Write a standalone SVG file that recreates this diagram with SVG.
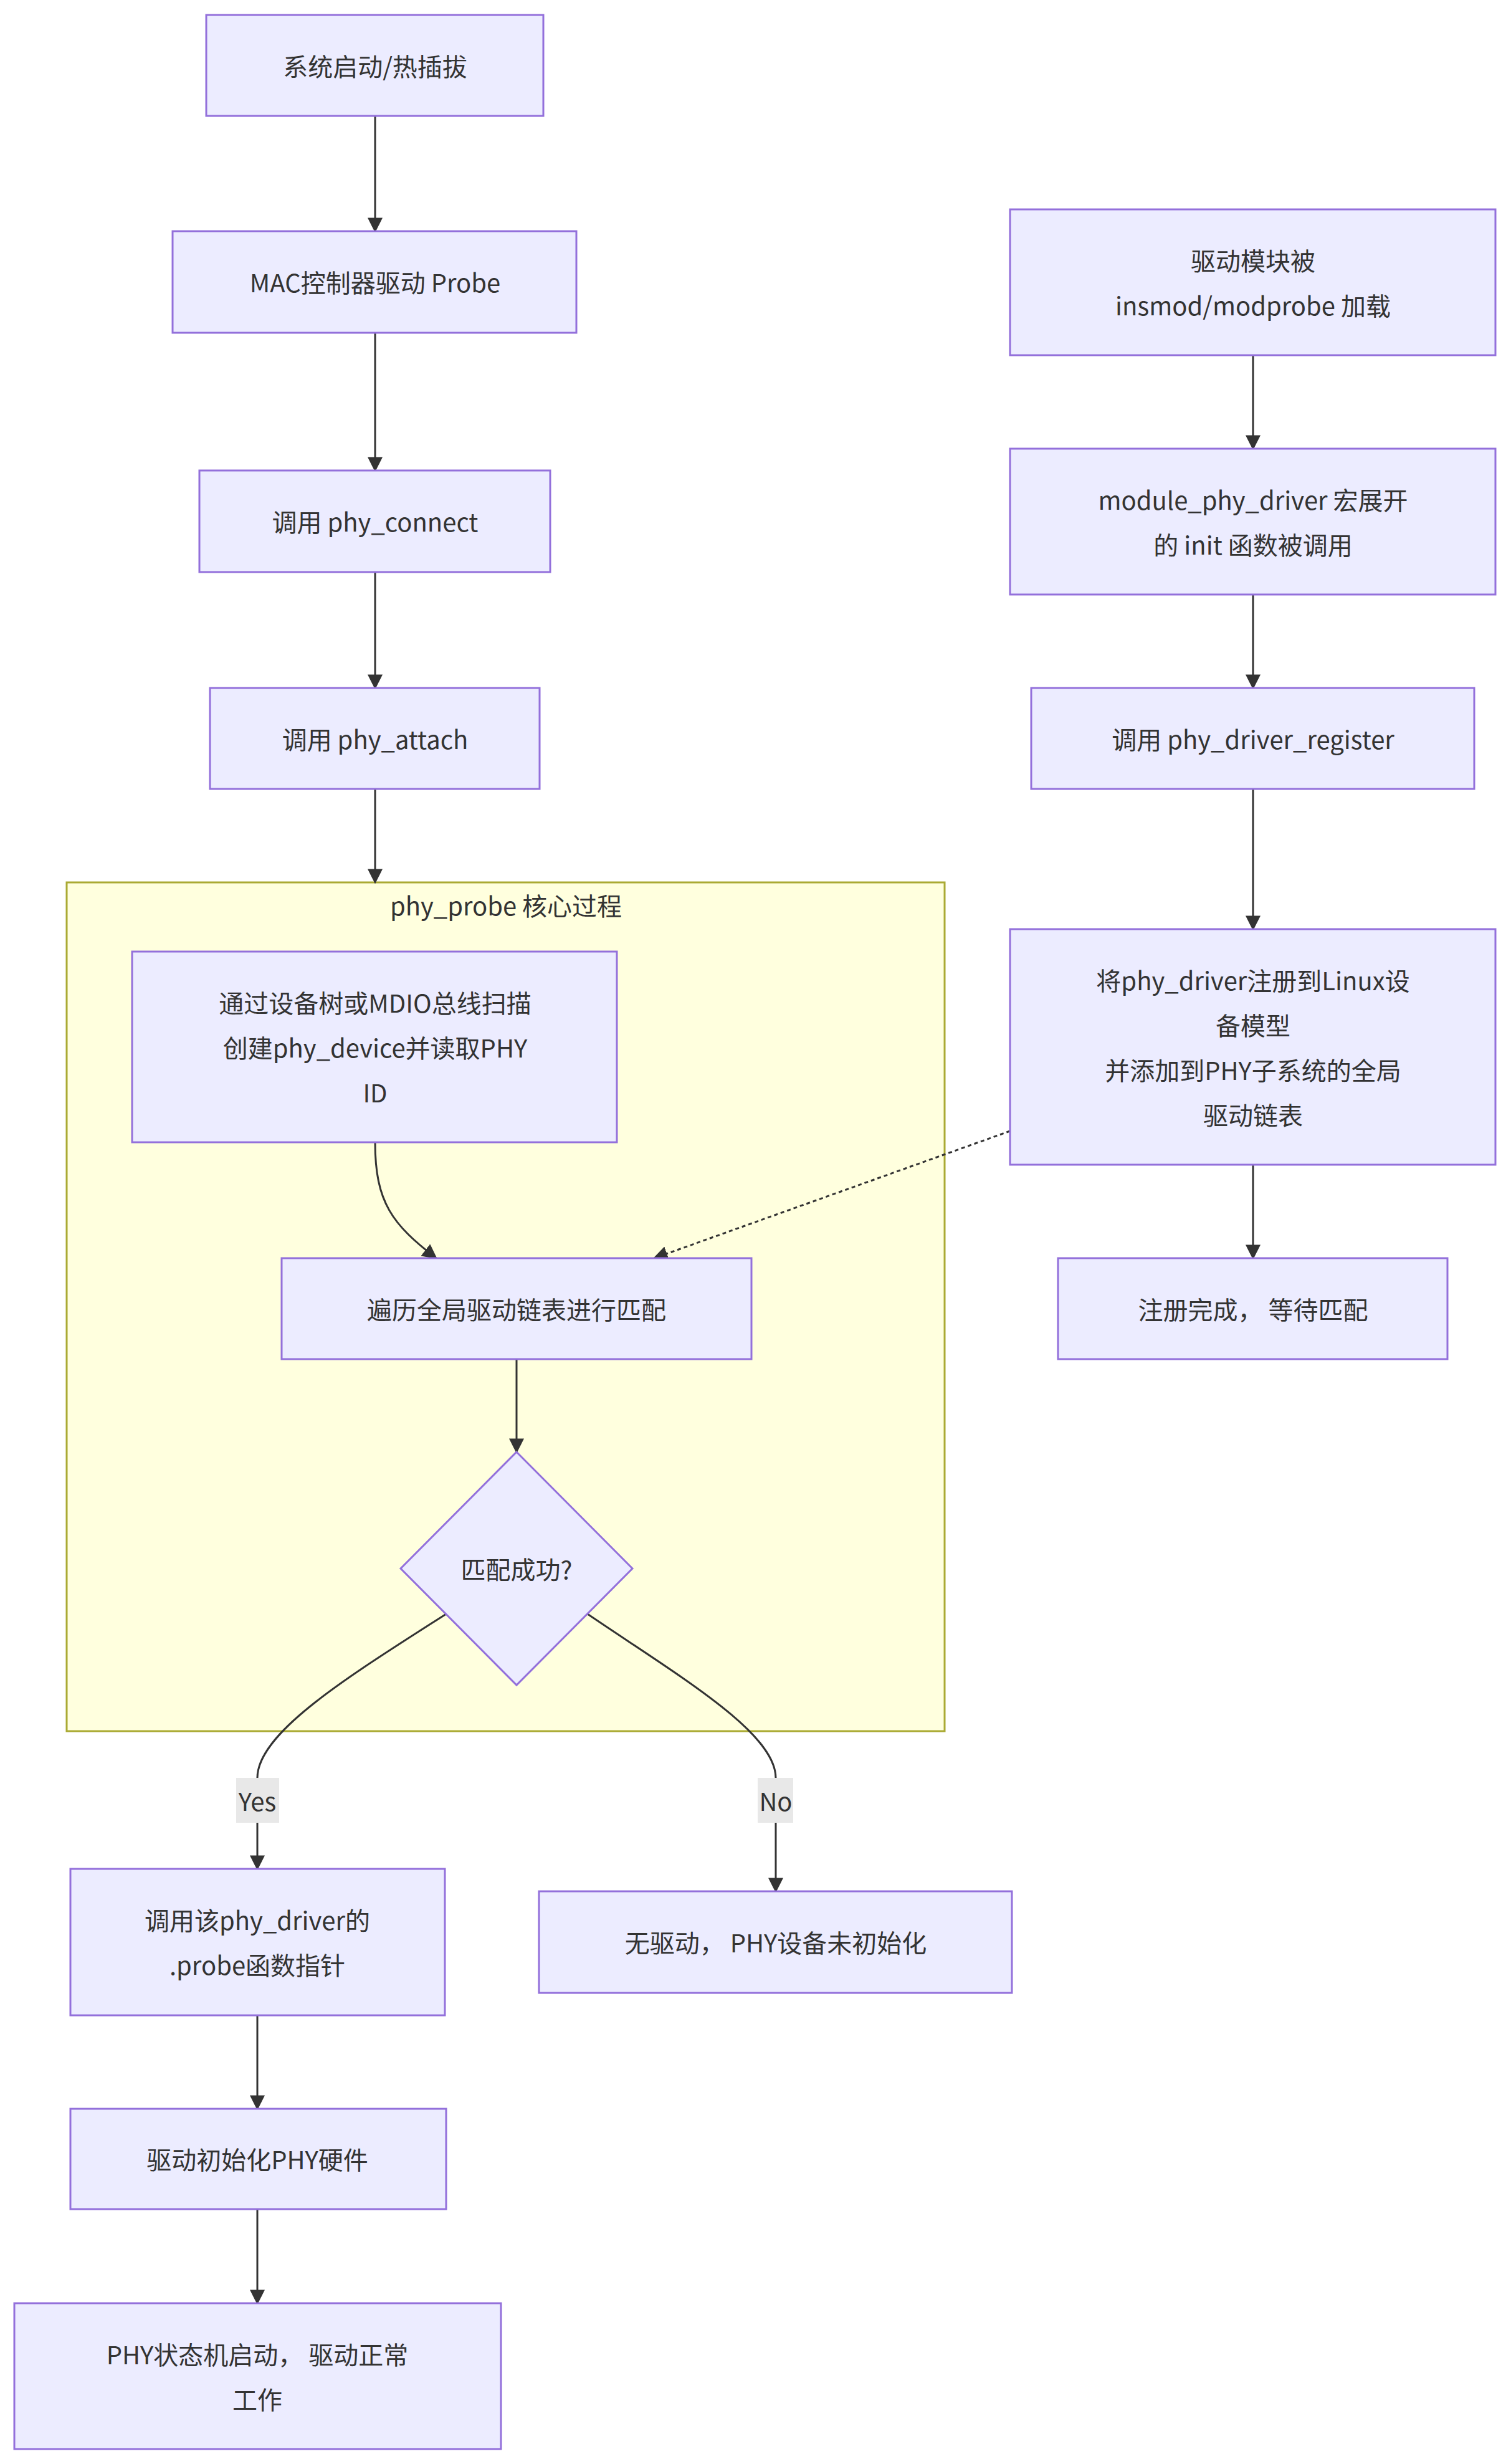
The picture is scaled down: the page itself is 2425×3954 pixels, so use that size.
<svg xmlns="http://www.w3.org/2000/svg" width="2425" height="3954" viewBox="0 0 2425 3954">
<style>
.n{fill:#ECECFF;stroke:#9370DB;stroke-width:3}
.t{font-family:"Noto Sans CJK SC","Noto Sans",sans-serif;font-size:40px;fill:#333;text-anchor:middle;dominant-baseline:central}
.e{fill:none;stroke:#333;stroke-width:3}
</style>
<defs><marker id="a" viewBox="0 0 10 10" refX="9" refY="5" markerWidth="8" markerHeight="8" markerUnits="userSpaceOnUse" orient="auto"><path d="M0,0L10,5L0,10z" fill="#333"/></marker>
<marker id="ah" viewBox="0 0 10 10" refX="9" refY="5" markerWidth="24" markerHeight="24" markerUnits="userSpaceOnUse" orient="auto"><path d="M0,0L10,5L0,10z" fill="#333"/></marker></defs>
<rect x="0" y="0" width="2425" height="3954" fill="#fff"/>
<g id="cluster"><rect x="107" y="1416" width="1409" height="1362" fill="#FFFFDE" stroke="#AAAA33" stroke-width="3"/><text class="t" x="812" y="1452">phy_probe 核心过程</text></g>
<g id="edges">
<path class="e" marker-end="url(#ah)" d="M602,186V371"/>
<path class="e" marker-end="url(#ah)" d="M602,534V755"/>
<path class="e" marker-end="url(#ah)" d="M602,918V1104"/>
<path class="e" marker-end="url(#ah)" d="M602,1266V1416"/>
<path class="e" marker-end="url(#ah)" d="M2011,570V720"/>
<path class="e" marker-end="url(#ah)" d="M2011,954V1104"/>
<path class="e" marker-end="url(#ah)" d="M2011,1266V1491"/>
<path class="e" marker-end="url(#ah)" d="M2011,1869V2019"/>
<path class="e" marker-end="url(#ah)" d="M602,1833C602,1930 630,1965 700,2019"/>
<path class="e" marker-end="url(#ah)" stroke-dasharray="6,5" d="M1621,1815L1050,2019"/>
<path class="e" marker-end="url(#ah)" d="M829,2181V2330"/>
<path class="e" marker-end="url(#ah)" d="M716,2590C560,2690 413,2780 413,2853V2999"/>
<path class="e" marker-end="url(#ah)" d="M943,2590C1090,2690 1245,2780 1245,2853V3035"/>
<path class="e" marker-end="url(#ah)" d="M413,3234V3384"/>
<path class="e" marker-end="url(#ah)" d="M413,3545V3696"/>
</g>
<g id="lYes"><rect x="379" y="2853" width="69" height="72" fill="#e8e8e8"/><text class="t" x="413" y="2889">Yes</text></g>
<g id="lNo"><rect x="1216" y="2853" width="57" height="72" fill="#e8e8e8"/><text class="t" x="1245" y="2889">No</text></g>
<g id="n1"><rect class="n" x="331" y="24" width="541" height="162"/><text class="t" x="602" y="105">系统启动/热插拔</text></g>
<g id="n2"><rect class="n" x="277" y="371" width="648" height="163"/><text class="t" x="602" y="452">MAC控制器驱动 Probe</text></g>
<g id="n3"><rect class="n" x="320" y="755" width="563" height="163"/><text class="t" x="602" y="836">调用 phy_connect</text></g>
<g id="n4"><rect class="n" x="337" y="1104" width="529" height="162"/><text class="t" x="602" y="1185">调用 phy_attach</text></g>
<g id="r1"><rect class="n" x="1621" y="336" width="779" height="234"/><text class="t" x="2011" y="417">驱动模块被</text><text class="t" x="2011" y="489">insmod/modprobe 加载</text></g>
<g id="r2"><rect class="n" x="1621" y="720" width="779" height="234"/><text class="t" x="2011" y="801">module_phy_driver 宏展开</text><text class="t" x="2011" y="873">的 init 函数被调用</text></g>
<g id="r3"><rect class="n" x="1655" y="1104" width="711" height="162"/><text class="t" x="2011" y="1185">调用 phy_driver_register</text></g>
<g id="r4"><rect class="n" x="1621" y="1491" width="779" height="378"/><text class="t" x="2011" y="1572">将phy_driver注册到Linux设</text><text class="t" x="2011" y="1644">备模型</text><text class="t" x="2011" y="1716">并添加到PHY子系统的全局</text><text class="t" x="2011" y="1788">驱动链表</text></g>
<g id="r5"><rect class="n" x="1698" y="2019" width="625" height="162"/><text class="t" x="2011" y="2100">注册完成， 等待匹配</text></g>
<g id="p1"><rect class="n" x="212" y="1527" width="778" height="306"/><text class="t" x="602" y="1608">通过设备树或MDIO总线扫描</text><text class="t" x="602" y="1680">创建phy_device并读取PHY</text><text class="t" x="602" y="1752">ID</text></g>
<g id="p2"><rect class="n" x="452" y="2019" width="754" height="162"/><text class="t" x="829" y="2100">遍历全局驱动链表进行匹配</text></g>
<g id="d"><polygon class="n" points="829,2330 1015,2517 829,2704 643,2517"/><text class="t" x="829" y="2517">匹配成功?</text></g>
<g id="y1"><rect class="n" x="113" y="2999" width="601" height="235"/><text class="t" x="413" y="3080">调用该phy_driver的</text><text class="t" x="413" y="3152">.probe函数指针</text></g>
<g id="no1"><rect class="n" x="865" y="3035" width="759" height="163"/><text class="t" x="1245" y="3116">无驱动， PHY设备未初始化</text></g>
<g id="y2"><rect class="n" x="113" y="3384" width="603" height="161"/><text class="t" x="413" y="3464">驱动初始化PHY硬件</text></g>
<g id="y3"><rect class="n" x="23" y="3696" width="781" height="234"/><text class="t" x="413" y="3777">PHY状态机启动， 驱动正常</text><text class="t" x="413" y="3849">工作</text></g>
</svg>
